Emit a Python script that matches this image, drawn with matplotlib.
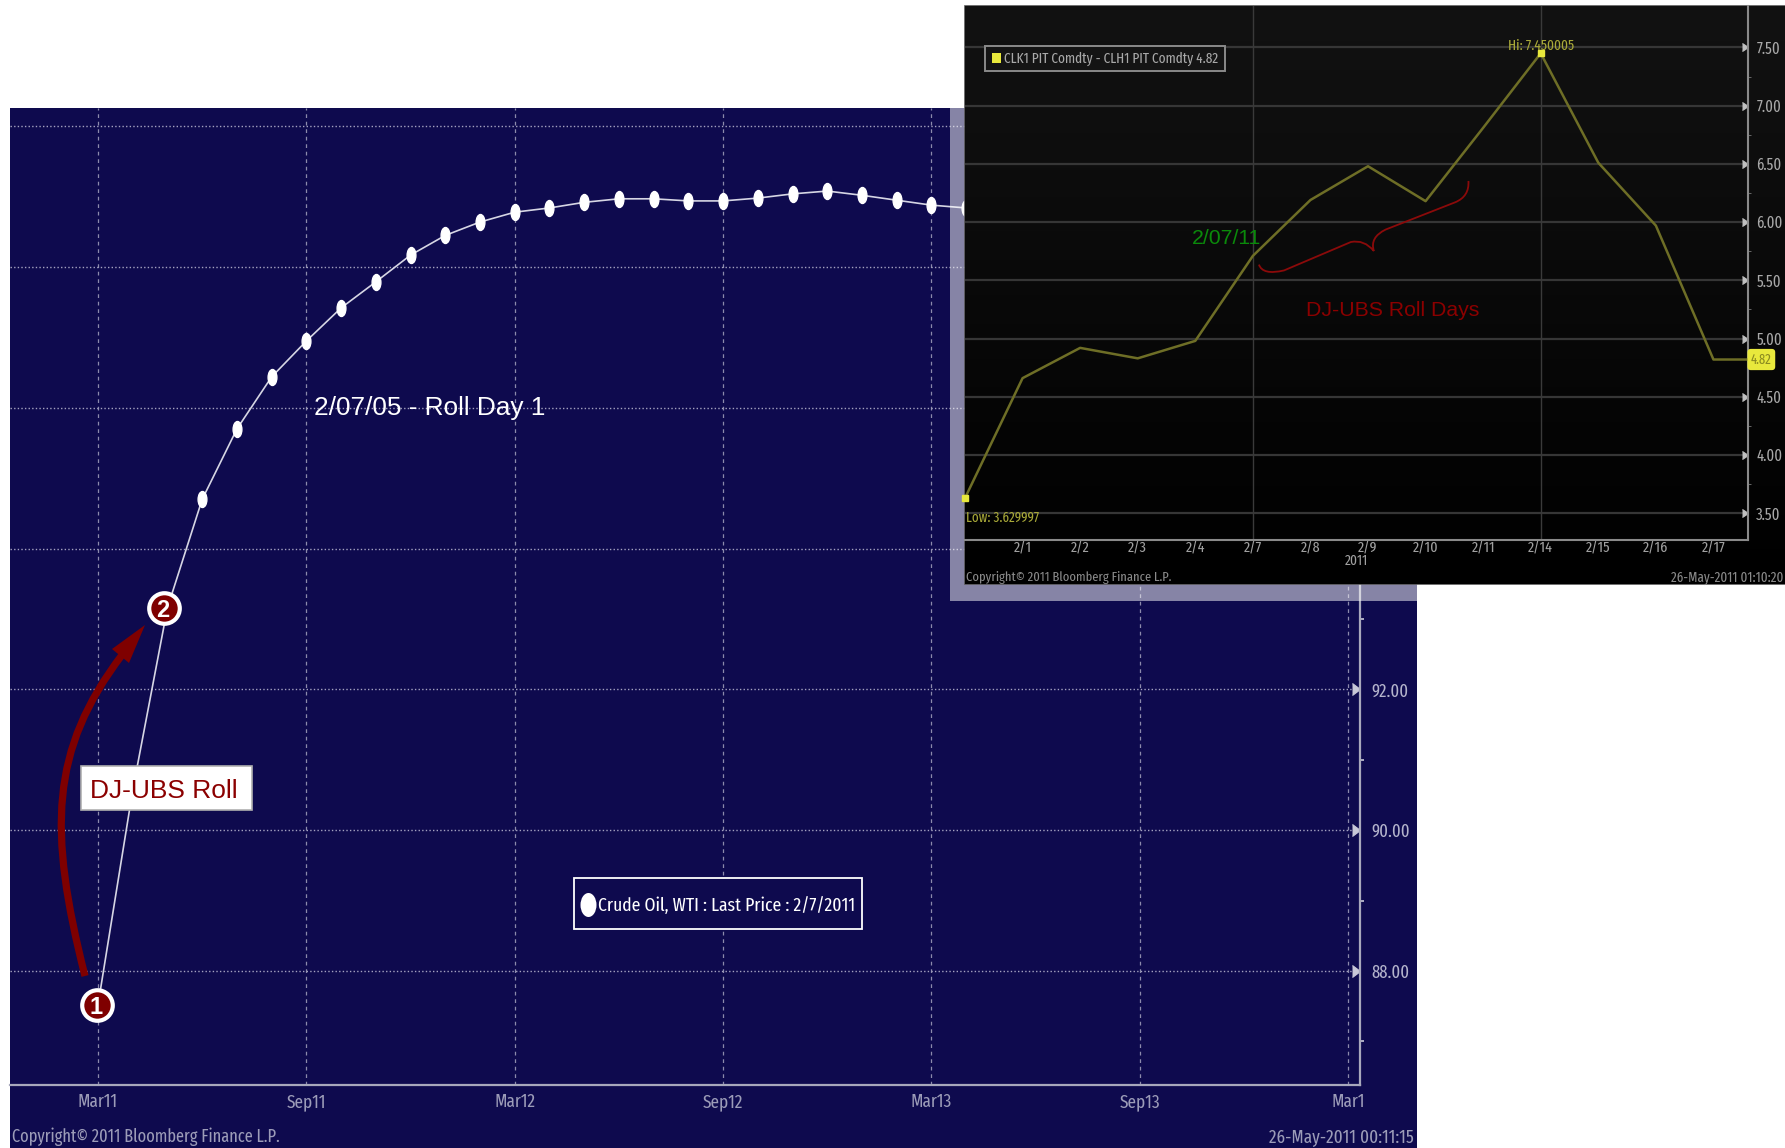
import numpy as np
import matplotlib
matplotlib.use("Agg")
import matplotlib.pyplot as plt
from matplotlib.path import Path
from matplotlib.patches import PathPatch, Rectangle, Polygon
from matplotlib.transforms import Affine2D

W, H = 1785, 1148

# main chart: crude oil curve by contract month
curve_pos = list(range(26))
curve_vals = [87.52, 90.57, 93.16, 94.70, 95.70, 96.44, 96.95, 97.42, 97.79, 98.17, 98.45, 98.64, 98.78,
              98.84, 98.92, 98.97, 98.97, 98.94, 98.94, 98.98, 99.04, 99.08, 99.02, 98.95, 98.88, 98.84]
month_pos = [0, 6, 12, 18, 24, 30, 36]
month_labels = ["Mar11", "Sep11", "Mar12", "Sep12", "Mar13", "Sep13", "Mar1"]
price_ticks = [88, 90, 92, 94, 96, 98, 100]
# the upper labels sit behind the inset in the reference
price_labels = ["88.00", "90.00", "92.00", "", "", "", ""]

# inset: CLK1 - CLH1 spread
spread_pos = [0, 1, 2, 3, 4, 5, 6, 7, 8, 9, 10, 11, 12, 13, 13.6]
spread_vals = [3.63, 4.66, 4.92, 4.83, 4.98, 5.71, 6.19, 6.48, 6.18, 6.81, 7.45, 6.51, 5.97, 4.82, 4.82]
day_pos = list(range(1, 14))
day_labels = ["2/1", "2/2", "2/3", "2/4", "2/7", "2/8", "2/9", "2/10", "2/11", "2/14", "2/15", "2/16", "2/17"]
spread_ticks = [3.5, 4.0, 4.5, 5.0, 5.5, 6.0, 6.5, 7.0, 7.5]

NAVY = "#0e0a4e"
DARKRED = "#8b0000"
BLOOM = "#9c9cb8"
NARROW = ["Fira Sans Extra Condensed", "Liberation Sans"]
ARIAL = ["Liberation Sans", "DejaVu Sans"]


def add_ax(x0, y0, x1, y1, z):
    ax = fig.add_axes([x0 / W, 1 - y1 / H, (x1 - x0) / W, (y1 - y0) / H], zorder=z)
    return ax


fig = plt.figure(figsize=(W / 100, H / 100), dpi=100, facecolor="white")

# full figure layer in pixels, used for panels under the charts
under = add_ax(0, 0, W, H, 0)
under.set_xlim(0, W)
under.set_ylim(H, 0)
under.axis("off")
under.add_patch(Rectangle((10, 108), 1407, 1040, fc=NAVY, ec="none"))

# main chart
ax = add_ax(10, 108, 1360, 1085, 1)
ax.patch.set_alpha(0)
ax.set_xlim(-2.534, 36.34)
ax.set_ylim(86.38, 100.26)
for s in ["top", "left"]:
    ax.spines[s].set_visible(False)
for s in ["bottom", "right"]:
    ax.spines[s].set_color("#a8a8bc")
    ax.spines[s].set_linewidth(1.6)
ax.set_xticks(month_pos)
ax.set_xticklabels(month_labels, family=NARROW, fontsize=13.5, color=BLOOM)
ax.tick_params(axis="x", length=0, pad=6)
ax.yaxis.tick_right()
ax.set_yticks(price_ticks)
ax.set_yticklabels(price_labels, family=NARROW, fontsize=13, color="#b4b4cc")
ax.set_yticks([87, 89, 91, 93, 95, 97, 99], minor=True)
ax.tick_params(axis="y", which="major", length=8, pad=0, color="#c8c8d8")
ax.tick_params(axis="y", which="minor", length=3, width=1.2, color="#c8c8d8")
for t in ax.yaxis.get_major_ticks():
    t.tick2line.set_marker(5)
    t.tick2line.set_markersize(8)
ax.grid(axis="y", color="#a4a2c0", linestyle=(0, (1, 1.6)), linewidth=1.0)
ax.grid(axis="x", color="#8c8aac", linestyle=(0, (3, 3)), linewidth=0.9)
ax.set_axisbelow(True)
oval = Path.unit_circle().transformed(Affine2D().scale(0.55, 1))
ax.plot(curve_pos, curve_vals, color="#d6d6e4", linewidth=1.2, marker=oval, markersize=11.5,
        markerfacecolor="white", markeredgecolor="white", markevery=list(range(3, 26)), clip_on=False)

# translucent frame around the inset
band = add_ax(0, 0, W, H, 2)
band.set_xlim(0, W)
band.set_ylim(H, 0)
band.axis("off")
band.add_patch(Rectangle((950, 108), 467, 493, fc="white", ec="none", alpha=0.5))
band.add_patch(Rectangle((965, 6), 820, 578, fc="black", ec="#555555", lw=1.2))
band.imshow(np.linspace(0.07, 0.0, 100).reshape(-1, 1), cmap="gray", vmin=0, vmax=1, aspect="auto",
            extent=(965, W, 584, 6), zorder=3)
band.set_xlim(0, W)
band.set_ylim(H, 0)
band.text(966, 578, "Copyright\u00a9 2011 Bloomberg Finance L.P.", family=NARROW, fontsize=9.8, color="#8a8a8a",
          va="center", zorder=4)
band.text(1783, 578, "26-May-2011 01:10:20", family=NARROW, fontsize=10.2, color="#8a8a8a",
          va="center", ha="right", zorder=4)

# inset chart
ins = add_ax(965, 6, 1748, 540, 3)
ins.patch.set_alpha(0)
ins.set_xlim(0, 13.6)
ins.set_ylim(3.27, 7.856)
for s in ["top", "left"]:
    ins.spines[s].set_visible(False)
for s in ["bottom", "right"]:
    ins.spines[s].set_color("#8a8a8a")
    ins.spines[s].set_linewidth(1.5)
ins.set_xticks(day_pos)
ins.set_xticklabels(day_labels, family=NARROW, fontsize=11, color="#a0a0a0")
ins.tick_params(axis="x", length=0, pad=1)
ins.yaxis.tick_right()
ins.set_yticks(spread_ticks)
ins.set_yticklabels(["%.2f" % v for v in spread_ticks], family=NARROW, fontsize=11.5, color="#a8a8a8")
ins.set_yticks(np.arange(3.75, 7.5, 0.5), minor=True)
ins.tick_params(axis="y", which="major", length=6, pad=0, color="#c0c0c0")
ins.tick_params(axis="y", which="minor", length=2, color="#777777")
for t in ins.yaxis.get_major_ticks():
    t.tick2line.set_marker(5)
    t.tick2line.set_markersize(6)
ins.grid(axis="y", color="#363636", linewidth=1.6)
ins.set_axisbelow(True)
for d in [5, 10]:
    ins.axvline(d, color="#3a3a3a", linewidth=1.0, zorder=1)
ins.plot(spread_pos, spread_vals, color="#6e6e26", linewidth=1.8, zorder=3)
ins.plot([0, 10], [3.63, 7.45], linestyle="none", marker="s", markersize=5, color="#e8e83c", zorder=4, clip_on=False)
ins.text(10, 7.515, "Hi: 7.450005", family=NARROW, fontsize=10.5, color="#a8a838", ha="center", va="center")
ins.text(0.02, 3.46, "Low: 3.629997", family=NARROW, fontsize=10.2, color="#a8a838", ha="left", va="center")
ins.text(13.65, 4.82, "4.82", family=NARROW, fontsize=10, color="#8a8a20", va="center", ha="left", clip_on=False,
         bbox=dict(boxstyle="round,pad=0.25", fc="#e8e83c", ec="none"))
ins.text(0.5, -0.039, "2011", transform=ins.transAxes, family=NARROW, fontsize=10.5, color="#a0a0a0", ha="center", va="center")

# annotations on top, in pixels
top = add_ax(0, 0, W, H, 4)
top.patch.set_alpha(0)
top.set_xlim(0, W)
top.set_ylim(H, 0)
top.axis("off")

# inset legend
top.add_patch(Rectangle((985, 46), 240, 25, fc="#141414", ec="#8a8a8a", lw=1.4))
top.add_patch(Rectangle((992, 53), 9, 10, fc="#e8e83c", ec="none"))
top.text(1004, 58.5, "CLK1 PIT Comdty - CLH1 PIT Comdty 4.82", family=NARROW, fontsize=10.4, color="#a8a8a8", va="center")

top.text(1192, 239, "2/07/11", family=ARIAL, fontsize=15.3, color="#0a8a0a", va="center")
top.text(1393, 311, "DJ-UBS Roll Days", family=ARIAL, fontsize=15.3, color=DARKRED, va="center", ha="center")


def zx(x):
    return 950 + x / 1.871


def zy(y):
    return y / 2.57


brace_z = [(578, 680), (585, 708), (625, 695), (750, 622), (775, 615), (793, 645),
           (785, 610), (815, 590), (945, 520), (972, 505), (970, 465)]
brace_xy = [(zx(a), zy(b)) for a, b in brace_z]
brace_codes = [Path.MOVETO, Path.CURVE3, Path.CURVE3, Path.LINETO, Path.CURVE3, Path.CURVE3,
               Path.CURVE3, Path.CURVE3, Path.LINETO, Path.CURVE3, Path.CURVE3]
top.add_patch(PathPatch(Path(brace_xy, brace_codes), fc="none", ec="#8b0a0a", lw=1.3))

top.text(314, 408, "2/07/05 - Roll Day 1", family=ARIAL, fontsize=18.9, color="white", va="center")

# roll arrow
curve = Path([(85, 976), (48, 830), (50, 750), (122, 655)], [Path.MOVETO, Path.CURVE4, Path.CURVE4, Path.CURVE4])
top.add_patch(PathPatch(curve, fc="none", ec="#7f0000", lw=5.2, capstyle="butt"))
top.add_patch(Polygon([(145, 625), (112, 649), (129, 663)], closed=True, fc="#7f0000", ec="none"))

# numbered circles
for cx, cy, num in [(97, 1005, "1"), (164, 608, "2")]:
    top.plot([cx], [cy], marker="o", markersize=22, markerfacecolor="#7f0000", markeredgecolor="white", markeredgewidth=3)
    top.text(cx - 1, cy, num, family=ARIAL, fontsize=17, fontweight="bold", color="white", ha="center", va="center_baseline")

# boxes
top.add_patch(Rectangle((81, 766), 171, 44, fc="white", ec="#b0b0b0", lw=1.2))
top.text(90, 788.5, "DJ-UBS Roll", family=ARIAL, fontsize=19, color=DARKRED, va="center_baseline")

top.add_patch(Rectangle((574, 878), 288, 51, fc=NAVY, ec="white", lw=1.3))
top.add_patch(PathPatch(Path.unit_circle().transformed(Affine2D().scale(8, 12).translate(588.5, 905)), fc="white", ec="none"))
top.text(598, 906, "Crude Oil, WTI : Last Price : 2/7/2011", family=NARROW, fontsize=13.8, color="white", va="center")

top.text(12, 1137, "Copyright\u00a9 2011 Bloomberg Finance L.P.", family=NARROW, fontsize=12.8, color=BLOOM, va="center")
top.text(1414, 1137, "26-May-2011 00:11:15", family=NARROW, fontsize=13.4, color=BLOOM, va="center", ha="right")

fig.savefig("out.png", dpi=100)
